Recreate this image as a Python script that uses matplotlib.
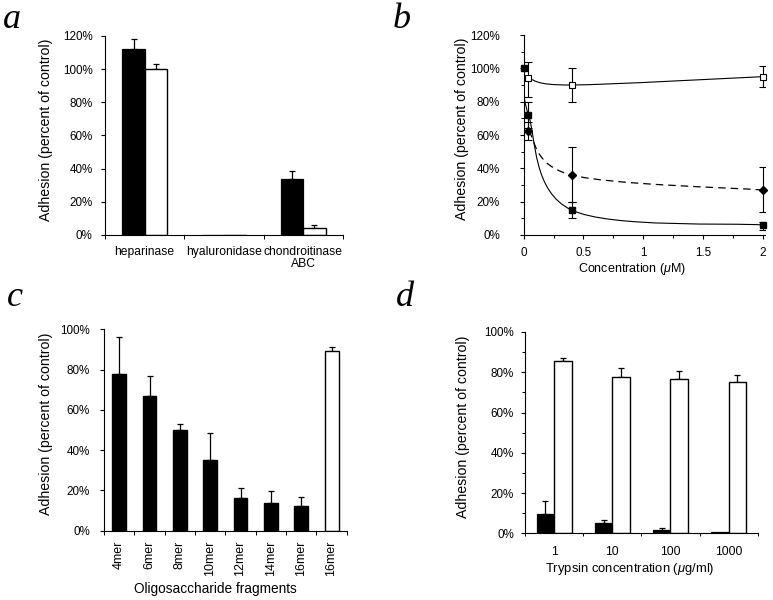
import numpy as np
import matplotlib
matplotlib.use('Agg')
import matplotlib.pyplot as plt
from matplotlib.path import Path
from matplotlib.patches import PathPatch
from matplotlib.ticker import MultipleLocator, FixedLocator, PercentFormatter, FuncFormatter

plt.rcParams['font.family'] = ['Liberation Sans', 'DejaVu Sans']
plt.rcParams['mathtext.fontset'] = 'custom'
plt.rcParams['mathtext.it'] = 'Liberation Sans:italic'
plt.rcParams['mathtext.rm'] = 'Liberation Sans'

# ---------------- data ----------------
# Panel a
a_categories = ['heparinase', 'hyaluronidase', 'chondroitinase\nABC']
a_black = [112, 0, 34]
a_black_err_top = [118, 0, 38.5]
a_white = [100, 0, 4]
a_white_err_top = [103, 0, 6]

# Panel b
b_conc_black = [0, 0.04, 0.4, 2]
b_black = [100, 72, 15, 6]
b_black_lo = [100, 64, 10, 3]
b_black_hi = [100, 80, 19.5, 8]
b_conc_open = [0.04, 0.4, 2]
b_open = [94, 90, 95]
b_open_lo = [83, 80, 89]
b_open_hi = [104, 100, 101.5]
b_conc_diam = [0.04, 0.4, 2]
b_diam = [62.5, 36, 27]
b_diam_lo = [57, 20, 13.5]
b_diam_hi = [68, 52.5, 40.5]

# Panel c
c_categories = ['4mer', '6mer', '8mer', '10mer', '12mer', '14mer', '16mer', '16mer']
c_values = [78, 67, 50, 35, 16, 14, 12.5, 89]
c_err_top = [96, 77, 53, 48.5, 21, 19.5, 16.5, 91]
c_filled = [True, True, True, True, True, True, True, False]

# Panel d
d_categories = ['1', '10', '100', '1000']
d_black = [9.5, 5, 1.8, 0.5]
d_black_err_top = [16, 6.5, 2.8, 0.5]
d_white = [85.5, 77.5, 76.5, 75]
d_white_err_top = [87, 82, 80.5, 78.5]

W, H = 773, 600
fig = plt.figure(figsize=(W / 100, H / 100), dpi=100)


def axes_px(left, right, top, bottom):
    return fig.add_axes([left / W, 1 - bottom / H, (right - left) / W, (bottom - top) / H])


def style(ax, ypad):
    for s in ['top', 'right']:
        ax.spines[s].set_visible(False)
    for s in ['left', 'bottom']:
        ax.spines[s].set_linewidth(0.8)
    ax.tick_params(axis='both', which='major', direction='out', length=3, width=0.8,
                   labelsize=8.4, color='black')
    ax.tick_params(axis='y', which='major', pad=ypad)
    ax.tick_params(axis='both', which='minor', direction='out', length=2, width=0.7)
    ax.yaxis.set_major_formatter(PercentFormatter(decimals=0))


def ylabel(ax, xfrac):
    ax.text(xfrac, 0.53, 'Adhesion (percent of control)', rotation=90, ha='center',
            va='center', fontsize=10.2, transform=ax.transAxes)


def up_err(ax, x, vals, tops, cap=2.3):
    vals = np.asarray(vals, float)
    tops = np.asarray(tops, float)
    m = tops > vals
    x = np.asarray(x, float)
    ax.errorbar(x[m], vals[m], yerr=[np.zeros(m.sum()), tops[m] - vals[m]], fmt='none',
                ecolor='black', elinewidth=0.9, capsize=cap, capthick=0.9, zorder=1)


def smooth_path(ax, xs, ys):
    pts = ax.transData.transform(np.column_stack([xs, ys]))
    n = len(pts)
    verts = [pts[0]]
    codes = [Path.MOVETO]
    for i in range(n - 1):
        p0 = pts[i - 1] if i > 0 else pts[i]
        p1 = pts[i]
        p2 = pts[i + 1]
        p3 = pts[i + 2] if i + 2 < n else pts[i + 1]
        c1 = p1 + (p2 - p0) / 6.0
        c2 = p2 - (p3 - p1) / 6.0
        verts += [c1, c2, p2]
        codes += [Path.CURVE4] * 3
    verts = ax.transData.inverted().transform(np.array(verts))
    return Path(verts, codes)


# ---------------- panel a ----------------
ax = axes_px(105, 343, 36, 235)
style(ax, ypad=6)
xa = np.arange(len(a_categories))
ax.bar(xa - 0.14, a_black, width=0.28, color='black', edgecolor='black', linewidth=0.9, zorder=2)
ax.bar(xa + 0.14, a_white, width=0.28, color='white', edgecolor='black', linewidth=1.0, zorder=2)
up_err(ax, xa - 0.14, a_black, a_black_err_top)
up_err(ax, xa + 0.14, a_white, a_white_err_top)
ax.set_xlim(-0.5, len(a_categories) - 0.5)
ax.set_ylim(0, 120)
ax.yaxis.set_major_locator(MultipleLocator(20))
ax.set_xticks(xa)
ax.set_xticklabels(a_categories, fontsize=8.7, linespacing=1.0)
ax.xaxis.set_minor_locator(FixedLocator(np.arange(len(a_categories) + 1) - 0.5))
ax.tick_params(axis='x', which='major', length=0, pad=8)
ax.tick_params(axis='x', which='minor', length=3)
ylabel(ax, -0.248)

# ---------------- panel b ----------------
ax = axes_px(523.7, 765.1, 35, 235)
style(ax, ypad=14)
ax.set_xlim(0, 2.02)
ax.set_ylim(0, 120)
ax.yaxis.set_major_locator(MultipleLocator(20))
ax.yaxis.set_minor_locator(MultipleLocator(10))
ax.xaxis.set_major_locator(MultipleLocator(0.5))
ax.xaxis.set_minor_locator(MultipleLocator(0.25))
ax.xaxis.set_major_formatter(FuncFormatter(lambda v, p: f'{v:g}'))
ax.tick_params(axis='x', which='major', pad=6)
ax.spines['left'].set_zorder(0.5)

ax.add_patch(PathPatch(smooth_path(ax, b_conc_open, b_open), fill=False, lw=0.8, color='black', zorder=2))
ax.add_patch(PathPatch(smooth_path(ax, b_conc_black, b_black), fill=False, lw=0.8, color='black', zorder=2))
ax.add_patch(PathPatch(smooth_path(ax, b_conc_diam, b_diam), fill=False, lw=0.9, color='black',
                       linestyle=(0, (6, 4)), zorder=2))

for xs, ys, lo, hi in [(b_conc_open, b_open, b_open_lo, b_open_hi),
                       (b_conc_black, b_black, b_black_lo, b_black_hi),
                       (b_conc_diam, b_diam, b_diam_lo, b_diam_hi)]:
    xs = np.asarray(xs, float); ys = np.asarray(ys, float)
    lo = np.asarray(lo, float); hi = np.asarray(hi, float)
    m = hi > lo
    ax.errorbar(xs[m], ys[m], yerr=[ys[m] - lo[m], hi[m] - ys[m]], fmt='none', ecolor='black',
                elinewidth=0.8, capsize=3, capthick=0.8, zorder=3)

ax.plot(b_conc_black, b_black, ls='none', marker='s', ms=4.5, mfc='black', mec='black', zorder=4, clip_on=False)
ax.plot(b_conc_open, b_open, ls='none', marker='s', ms=4.8, mfc='white', mec='black', mew=0.8, zorder=4, clip_on=False)
ax.plot(b_conc_diam, b_diam, ls='none', marker='D', ms=4.2, mfc='black', mec='black', zorder=4, clip_on=False)
ylabel(ax, -0.257)
ax.text(0.447, -0.172, r'Concentration ($\mathit{\mu}$M)', ha='center', va='center', fontsize=9,
        transform=ax.transAxes)

# ---------------- panel c ----------------
ax = axes_px(104, 346.7, 329.3, 530.7)
style(ax, ypad=7)
xc = np.arange(len(c_categories))
colors = ['black' if f else 'white' for f in c_filled]
ax.bar(xc, c_values, width=0.46, color=colors, edgecolor='black', linewidth=1.0, zorder=2)
up_err(ax, xc, c_values, c_err_top)
ax.set_xlim(-0.5, len(c_categories) - 0.5)
ax.set_ylim(0, 100)
ax.yaxis.set_major_locator(MultipleLocator(20))
ax.set_xticks(xc)
ax.set_xticklabels(c_categories, rotation=90, fontsize=9.0)
ax.xaxis.set_minor_locator(FixedLocator(np.arange(len(c_categories) + 1) - 0.5))
ax.tick_params(axis='x', which='major', length=0, pad=7)
ax.tick_params(axis='x', which='minor', length=3)
ylabel(ax, -0.24)
ax.text(0.46, -0.291, 'Oligosaccharide fragments', ha='center', va='center', fontsize=9.8,
        transform=ax.transAxes)

# ---------------- panel d ----------------
ax = axes_px(525, 757.7, 332, 533.3)
style(ax, ypad=5)
xd = np.arange(len(d_categories))
ax.bar(xd - 0.15, d_black, width=0.3, color='black', edgecolor='black', linewidth=0.9, zorder=2)
ax.bar(xd + 0.15, d_white, width=0.3, color='white', edgecolor='black', linewidth=1.0, zorder=2)
up_err(ax, xd - 0.15, d_black, d_black_err_top)
up_err(ax, xd + 0.15, d_white, d_white_err_top)
ax.set_xlim(-0.5, len(d_categories) - 0.5)
ax.set_ylim(0, 100)
ax.yaxis.set_major_locator(MultipleLocator(20))
ax.yaxis.set_minor_locator(MultipleLocator(10))
ax.set_xticks(xd)
ax.set_xticklabels(d_categories, fontsize=8.7)
ax.xaxis.set_minor_locator(FixedLocator(np.arange(len(d_categories) + 1) - 0.5))
ax.tick_params(axis='x', which='major', length=0, pad=9)
ax.tick_params(axis='x', which='minor', length=2)
ylabel(ax, -0.265)
ax.text(0.451, -0.179, r'Trypsin concentration ($\mathit{\mu}$g/ml)', ha='center', va='center',
        fontsize=9.4, transform=ax.transAxes)

# ---------------- panel letters ----------------
for letter, xp, yp in [('a', 3, 28), ('b', 393, 28), ('c', 7, 306), ('d', 396, 306)]:
    fig.text(xp / W, 1 - yp / H, letter, fontsize=26, style='italic', family='Liberation Serif',
             ha='left', va='baseline')

fig.savefig('out.png', dpi=100)
